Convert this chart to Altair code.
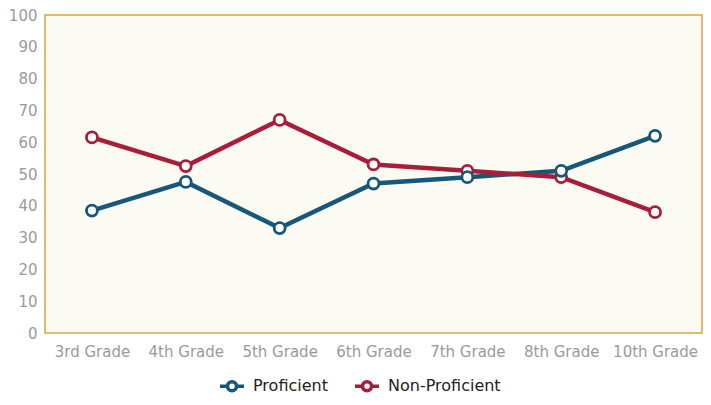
import altair as alt
import pandas as pd

grades = ["3rd Grade", "4th Grade", "5th Grade", "6th Grade", "7th Grade", "8th Grade", "10th Grade"]
proficient = [38.5, 47.5, 33, 47, 49, 51, 62]
non_proficient = [61.5, 52.5, 67, 53, 51, 49, 38]
series = ["Proficient", "Non-Proficient"]
colors = ["#17587a", "#a81e3a"]

rows = []
for g, p, n in zip(grades, proficient, non_proficient):
    rows.append({"grade": g, "series": series[0], "value": p})
    rows.append({"grade": g, "series": series[1], "value": n})
df = pd.DataFrame(rows)

FONT = "DejaVu Sans"
sym = "M-1.2,0 L-0.45,0 M0.45,0 L1.2,0 M-0.45,0 A0.45,0.45 0 1,1 0.45,0 A0.45,0.45 0 1,1 -0.45,0 Z"

chart = alt.Chart(df).mark_line(
    strokeWidth=4.5,
    point=alt.OverlayMarkDef(filled=True, fill="white", size=120, strokeWidth=2.8),
).encode(
    x=alt.X("grade:N", sort=grades, scale=alt.Scale(padding=0.5),
            axis=alt.Axis(title=None, labelAngle=0, domain=False, ticks=False,
                          labelColor="#9a9a9a", labelFontSize=15, labelFont=FONT, labelPadding=11)),
    y=alt.Y("value:Q", scale=alt.Scale(domain=[0, 100], nice=False),
            axis=alt.Axis(title=None, values=list(range(0, 101, 10)), grid=False, domain=False, ticks=False,
                          labelColor="#9a9a9a", labelFontSize=15, labelFont=FONT, labelPadding=8)),
    stroke=alt.Stroke("series:N", sort=series,
                      scale=alt.Scale(domain=series, range=colors),
                      legend=alt.Legend(title=None, orient="none", direction="horizontal",
                                        legendX=175, legendY=359,
                                        symbolType=sym, symbolSize=400, symbolStrokeWidth=3.5,
                                        symbolFillColor="white",
                                        labelFont=FONT, labelFontSize=16, labelColor="#222222",
                                        columnPadding=20, labelOffset=9)),
    order=alt.Order("series:N"),
).properties(
    width=657, height=318,
    autosize=alt.AutoSizeParams(type="none"),
    padding={"left": 37, "top": 7, "right": 1, "bottom": 64},
).configure_view(
    fill="#fbfaf3", stroke="#dca53f", strokeWidth=1.5
)

chart.save("out.html", embed_options={"renderer": "svg", "actions": False})
